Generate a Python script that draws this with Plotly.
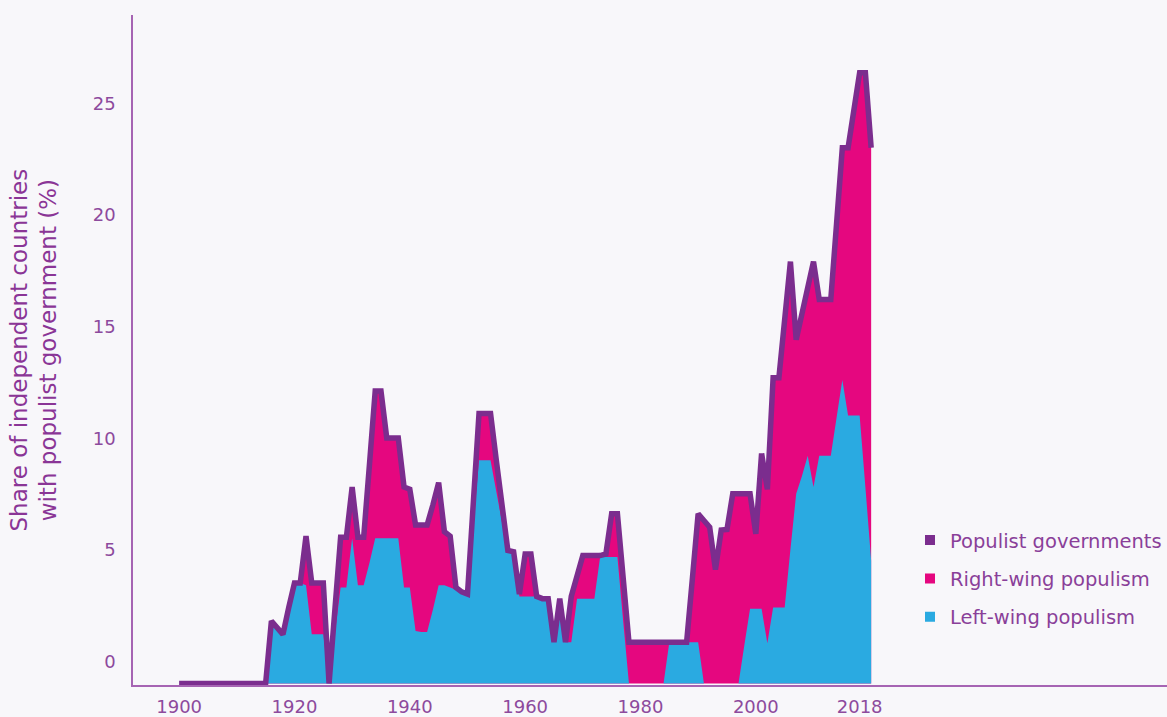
import plotly.graph_objects as go

# ---- data (share of independent countries, %) ----
years = list(range(1900, 2021))

populist_total = (
    [0.0] * 16 +                                   # 1900-1915
    [2.8, 2.5, 2.2, 3.4, 4.5, 4.5, 6.6, 4.5, 4.5, 4.5,   # 1916-1925
     0.0, 3.3, 6.55, 6.55, 8.8, 6.55, 6.55, 9.8, 13.1, 13.1,  # 1926-1935
     11.0, 11.0, 11.0, 8.8, 8.7, 7.1, 7.1, 7.1, 8.0, 9.0,     # 1936-1945
     6.8, 6.6, 4.3, 4.1, 4.0, 8.05, 12.1, 12.1, 12.1, 10.0,   # 1946-1955
     7.9, 5.96, 5.9, 4.0, 5.8, 5.8, 3.9, 3.8, 3.8, 1.85,      # 1956-1965
     3.8, 1.85, 3.9, 4.8, 5.73, 5.73, 5.73, 5.73, 5.8, 7.6,   # 1966-1975
     7.6, 4.7, 1.85, 1.85, 1.85, 1.85, 1.85, 1.85, 1.85, 1.85,  # 1976-1985
     1.85, 1.85, 1.85, 4.7, 7.6, 7.3, 7.0, 5.1, 6.87, 6.9,    # 1986-1995
     8.5, 8.5, 8.5, 8.5, 6.7, 10.3, 8.7, 13.7, 13.7, 16.3,    # 1996-2005
     18.9, 15.4, 16.6, 17.7, 18.9, 17.2, 17.2, 17.2, 20.6, 24.0,  # 2006-2015
     24.0, 25.7, 27.36, 27.36, 24.0]                          # 2016-2020
)

left_wing = (
    [0.0] * 16 +                                   # 1900-1915
    [2.8, 2.5, 2.2, 3.4, 4.5, 4.5, 4.4, 2.2, 2.2, 2.2,   # 1916-1925
     0.0, 2.2, 4.3, 4.3, 6.5, 4.4, 4.4, 5.4, 6.5, 6.5,   # 1926-1935
     6.5, 6.5, 6.5, 4.3, 4.3, 2.35, 2.3, 2.3, 3.3, 4.4,  # 1936-1945
     4.4, 4.3, 4.2, 4.1, 4.0, 7.0, 10.0, 10.0, 10.0, 8.6,  # 1946-1955
     7.2, 5.9, 5.9, 3.9, 3.9, 3.9, 3.9, 3.8, 3.8, 1.85,  # 1956-1965
     3.8, 1.85, 1.85, 3.8, 3.8, 3.8, 3.8, 5.66, 5.66, 5.66,  # 1966-1975
     5.66, 2.8, 0.0, 0.0, 0.0, 0.0, 0.0, 0.0, 0.0, 1.85,  # 1976-1985
     1.85, 1.85, 1.85, 1.85, 1.85, 0.0, 0.0, 0.0, 0.0, 0.0,  # 1986-1995
     0.0, 0.0, 1.7, 3.35, 3.35, 3.35, 1.8, 3.4, 3.4, 3.4,  # 1996-2005
     6.0, 8.5, 9.3, 10.2, 8.8, 10.2, 10.2, 10.2, 11.9, 13.6,  # 2006-2015
     12.0, 12.0, 12.0, 8.8, 5.5]                          # 2016-2020
)

x_tick_years = [1900, 1920, 1940, 1960, 1980, 2000, 2018]
y_tick_values = [0, 5, 10, 15, 20, 25]

legend_names = ["Populist governments", "Right-wing populism", "Left-wing populism"]

PURPLE = "#7b2d8e"
PINK = "#e5077f"
BLUE = "#2aaae1"
TEXT = "#8d4a9d"
AXIS = "#a664b3"
BG = "#f8f7fa"
FONT = "DejaVu Sans"

fig = go.Figure()

# right-wing share shows as the pink band between left-wing and total
fig.add_trace(go.Scatter(x=years, y=populist_total, mode="none", fill="tozeroy",
                         fillcolor=PINK, showlegend=False, hoverinfo="skip"))
fig.add_trace(go.Scatter(x=years, y=left_wing, mode="none", fill="tozeroy",
                         fillcolor=BLUE, showlegend=False, hoverinfo="skip"))
fig.add_trace(go.Scatter(x=years, y=populist_total, mode="lines",
                         line=dict(color=PURPLE, width=5.5), showlegend=False))

# legend entries (square swatches)
for name, col in zip(legend_names, [PURPLE, PINK, BLUE]):
    fig.add_trace(go.Scatter(x=[None], y=[None], mode="markers", name=name,
                             legendgroup=name,
                             marker=dict(symbol="square", size=10, color=col)))

fig.update_layout(
    width=1167, height=717,
    margin=dict(l=133, r=0, t=15, b=32),
    paper_bgcolor=BG, plot_bgcolor=BG,
    font=dict(family=FONT, color=TEXT),
    showlegend=True,
    legend=dict(x=0.7515, xanchor="left", y=0.245, yanchor="top",
                bgcolor="rgba(0,0,0,0)", traceorder="grouped",
                tracegroupgap=10, font=dict(size=19.5, color="#8a3f99", family=FONT),
                itemclick=False, itemdoubleclick=False),
    xaxis=dict(range=[1892, 2071.3], tickvals=x_tick_years, ticks="",
               showgrid=False, zeroline=False, showline=True,
               linecolor=AXIS, linewidth=1.5, ticklabelstandoff=5,
               tickfont=dict(size=18, color=TEXT, family=FONT)),
    yaxis=dict(range=[-0.07, 29.95], tickvals=y_tick_values, ticks="",
               showgrid=False, zeroline=False, showline=True,
               linecolor=AXIS, linewidth=1.5,
               ticklabelshift=-22, ticklabelstandoff=12,
               tickfont=dict(size=18, color=TEXT, family=FONT)),
    annotations=[dict(
        text="Share of independent countries<br>with populist government (%)",
        textangle=-90, xref="paper", yref="paper",
        x=(33.5 - 133) / 1034, y=0.5, xanchor="center", yanchor="middle",
        showarrow=False, font=dict(size=23, color="#8a3596", family=FONT))],
)

fig.write_html(
    "out.html",
    config={"displayModeBar": False},
    post_script="document.body.style.margin='0';document.body.style.background='#f8f7fa';",
)
